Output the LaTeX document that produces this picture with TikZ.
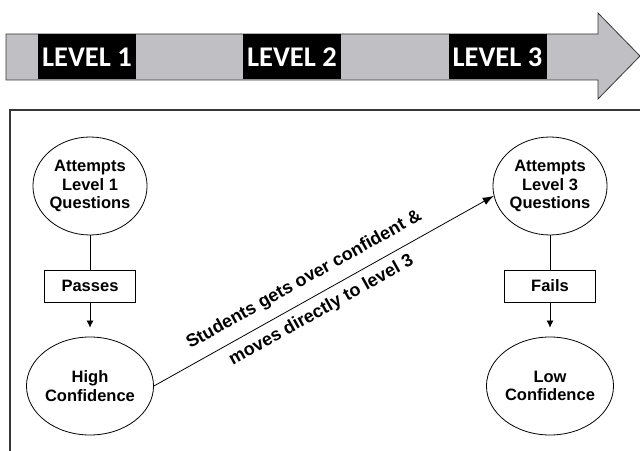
\documentclass[tikz,border=0pt]{standalone}
\usepackage{fontspec}
\setmainfont{Liberation Sans}
\newfontfamily\levelfont{Carlito}
\usetikzlibrary{shapes,arrows.meta}
\definecolor{shaftgray}{RGB}{192,192,196}
\definecolor{edgegray}{RGB}{55,55,55}
\tikzstyle{state} =
        [
                ellipse,
                draw,
                thick,
                inner sep = 0pt,
                minimum width = 114pt,
                minimum height = 98pt,
                align = center,
                font = \fontsize{16.5}{18.5}\selectfont\bfseries
        ]
\tikzstyle{result} =
        [
                rectangle,
                draw,
                thick,
                minimum width = 91pt,
                minimum height = 32pt,
                font = \fontsize{16.5}{18.5}\selectfont\bfseries
        ]
\tikzstyle{level} =
        [
                rectangle,
                fill = black,
                text = white,
                minimum width = 98pt,
                minimum height = 45pt,
                font = \fontsize{28.5}{30}\selectfont\levelfont\bfseries
        ]
\tikzstyle{line} =
        [
                thick,
                draw = black
        ]
\tikzstyle{jump} =
        [
                font = \fontsize{18}{20}\selectfont\bfseries
        ]
\begin{document}
\begin{tikzpicture}[x=1pt, y=1pt, node distance = 100pt]
    \useasboundingbox (0,0) rectangle (640,450);
    % timeline arrow
    \filldraw [fill = shaftgray, draw = edgegray, thick]
        (6,416) -- (598,416) -- (598,437) -- (640,394) -- (598,351) -- (598,370) -- (6,370) -- cycle;
    \node [level] (level1) at (87,393) {LEVEL 1};
    \node [level] (level2) at (292,393) {LEVEL 2};
    \node [level] (level3) at (497.5,393) {LEVEL 3};
    % frame
    \draw [edgegray, line width = 1.2pt] (10,-5) -- (10,340) -- (645,340);
    % left column
    \node [state] (attempts1) at (90,264) {Attempts\\Level 1\\Questions};
    \node [result, below of = attempts1] (passes) {Passes};
    \node [state, below of = passes] (high) {High\\Confidence};
    % right column
    \node [state] (attempts3) at (550,264) {Attempts\\Level 3\\Questions};
    \node [result, below of = attempts3] (fails) {Fails};
    \node [state, below of = fails] (low) {Low\\Confidence};
    \path [line] (attempts1) -- (passes);
    \path [line, -{Latex[length=7pt, width=7pt]}, shorten >= 9pt] (passes) -- (high);
    \path [line] (attempts3) -- (fails);
    \path [line, -{Latex[length=7pt, width=7pt]}, shorten >= 9pt] (fails) -- (low);
    \path [line, -{Latex[length=11pt, width=8pt]}] (high.east) -- (attempts3.190)
        node [jump, pos = 0.47, sloped, above = 7pt] {Students gets over confident \&}
        node [jump, pos = 0.47, sloped, below = 4pt] {moves directly to level 3};
\end{tikzpicture}
\end{document}
